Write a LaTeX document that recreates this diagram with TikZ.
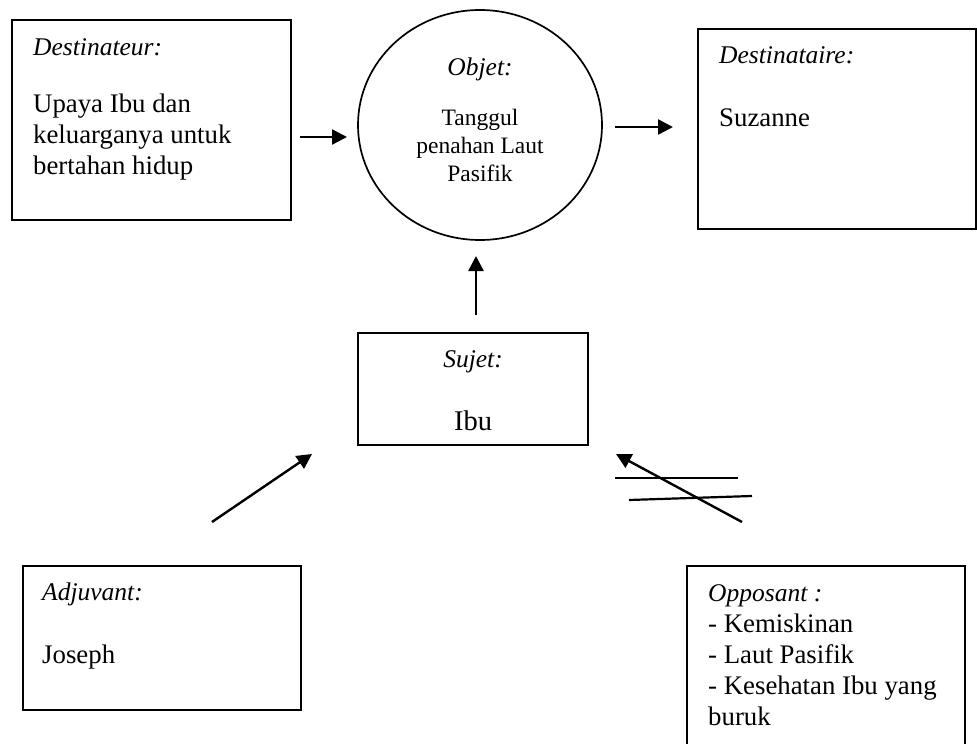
\documentclass[tikz,border=0pt]{standalone}
\usepackage{fontspec}
\setmainfont{Liberation Serif}
\usetikzlibrary{arrows.meta,shapes.geometric}
\begin{document}
\begin{tikzpicture}[x=1pt,y=-1pt,
  boxline/.style={draw=black,line width=1.7pt},
  lbl/.style={anchor=base west,inner sep=0pt,font=\fontsize{25.5}{30}\selectfont\itshape},
  txt/.style={anchor=base west,inner sep=0pt,font=\fontsize{26.8}{31}\selectfont},
  ctxt/.style={anchor=base,inner sep=0pt,font=\fontsize{23.5}{28}\selectfont},
  arr/.style={line width=2.4pt,-{Triangle[length=15pt,width=15pt]}},
  plain/.style={line width=2.2pt}]
\useasboundingbox (0,0) rectangle (977,744);
\fill[white] (0,0) rectangle (977,744);
% boxes
\node[boxline,rectangle,minimum width=279pt,minimum height=200pt,inner sep=0pt] (dest) at (151.5,120) {};
\node[boxline,rectangle,minimum width=278pt,minimum height=200pt,inner sep=0pt] (destaire) at (837,129) {};
\node[boxline,ellipse,minimum width=244pt,minimum height=230pt,inner sep=0pt] (obj) at (480,125) {};
\node[boxline,rectangle,minimum width=230pt,minimum height=112pt,inner sep=0pt] (suj) at (473,389) {};
\node[boxline,rectangle,minimum width=278pt,minimum height=144pt,inner sep=0pt] (adj) at (162,638) {};
\coordinate (oppTL) at (687,566);
\coordinate (oppTR) at (965,566);
\draw[boxline] (687,770) -- (oppTL) -- (oppTR) -- (965,770);
% texts Destinateur
\node[lbl] (t1) at (33,55) {Destinateur:};
\node[txt] (t2) at (33,112) {Upaya Ibu dan};
\node[txt] (t3) at (33,143) {keluarganya untuk};
\node[txt] (t4) at (33,174) {bertahan hidup};
% Objet
\node[ctxt,font=\fontsize{25.5}{30}\selectfont\itshape] (o1) at (480,75) {Objet:};
\node[ctxt] (o2) at (480,125) {Tanggul};
\node[ctxt] (o3) at (480,153) {penahan Laut};
\node[ctxt] (o4) at (480,181) {Pasifik};
% Destinataire
\node[lbl] (d1) at (719,63) {Destinataire:};
\node[txt] (d2) at (719,126) {Suzanne};
% Sujet
\node[ctxt,font=\fontsize{25.5}{30}\selectfont\itshape] (s1) at (473,367) {Sujet:};
\node[ctxt,font=\fontsize{28.5}{32}\selectfont] (s2) at (473,430) {Ibu};
% Adjuvant
\node[lbl] (a1) at (42,600) {Adjuvant:};
\node[txt] (a2) at (42,663) {Joseph};
% Opposant
\node[lbl] (p1) at (708,601) {Opposant :};
\node[txt] (p2) at (708,632) {- Kemiskinan};
\node[txt] (p3) at (708,663) {- Laut Pasifik};
\node[txt] (p4) at (708,694) {- Kesehatan Ibu yang};
\node[txt] (p5) at (708,725) {buruk};
% arrows
\coordinate (a1s) at (300,137); \coordinate (a1e) at (347,137);
\coordinate (a2s) at (615,127); \coordinate (a2e) at (673,127);
\coordinate (a3s) at (476,315); \coordinate (a3e) at (476,256);
\coordinate (a4s) at (212,522); \coordinate (a4e) at (312,454);
\coordinate (a5s) at (742,522); \coordinate (a5e) at (616,454);
\draw[arr] (a1s) -- (a1e);
\draw[arr] (a2s) -- (a2e);
\draw[arr] (a3s) -- (a3e);
\draw[arr] (a4s) -- (a4e);
\draw[arr] (a5s) -- (a5e);
% crossing lines
\coordinate (c1s) at (615,478); \coordinate (c1e) at (738,478);
\coordinate (c2s) at (629,500); \coordinate (c2e) at (752,496);
\draw[plain] (c1s) -- (c1e);
\draw[plain] (c2s) -- (c2e);
\end{tikzpicture}
\end{document}
